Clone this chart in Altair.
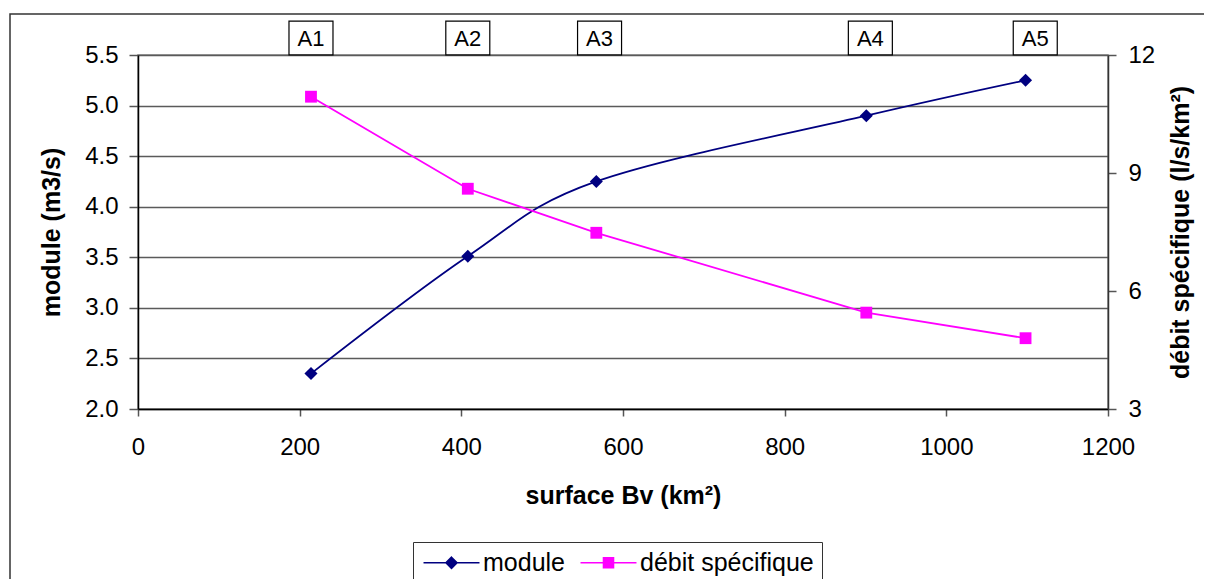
import altair as alt
import pandas as pd

# ---- data ----
surface = [214, 408, 567, 901, 1098]
module = [2.35, 3.51, 4.25, 4.90, 5.25]
debit = [10.94, 8.60, 7.48, 5.45, 4.80]
series_names = ["module", "débit spécifique"]
series_colors = ["#000080", "#FF00FF"]
station_labels = ["A1", "A2", "A3", "A4", "A5"]
station_label_x = [214, 408, 571, 906, 1110]

FONT = "Liberation Sans"

rows = []
for s, m, d in zip(surface, module, debit):
    rows.append({"surface": s, "series": series_names[0], "value": m})
    rows.append({"surface": s, "series": series_names[1], "value": d})
df = pd.DataFrame(rows)
lab_df = pd.DataFrame({"label": station_labels, "x": station_label_x})

xscale = alt.Scale(domain=[0, 1200], nice=False, zero=False)
xaxis = alt.Axis(values=[0, 200, 400, 600, 800, 1000, 1200], format="d",
                 title="surface Bv (km²)", grid=False, tickSize=7,
                 labelPadding=19, titlePadding=24,
                 domainColor="#000000", tickColor="#555555")

base = alt.Chart(df)

# left axis (module)
yl_scale = alt.Scale(domain=[2.0, 5.5], nice=False, zero=False)
yl_axis = alt.Axis(values=[2.0, 2.5, 3.0, 3.5, 4.0, 4.5, 5.0, 5.5], format=".1f",
                   title="module (m3/s)", grid=True, tickSize=9, labelPadding=11,
                   titlePadding=20, domainColor="#000000", tickColor="#555555")
mod_line = base.transform_filter(alt.datum.series == "module").mark_line(
    strokeWidth=1.8, interpolate="cardinal", color=series_colors[0]).encode(
    x=alt.X("surface:Q", scale=xscale, axis=xaxis),
    y=alt.Y("value:Q", scale=yl_scale, axis=yl_axis),
)
mod_pts = base.transform_filter(alt.datum.series == "module").mark_point(
    filled=True, shape="diamond", size=170, opacity=1, color=series_colors[0]).encode(
    x=alt.X("surface:Q", scale=xscale, axis=xaxis),
    y=alt.Y("value:Q", scale=yl_scale, axis=yl_axis),
)
left = alt.layer(mod_line, mod_pts)

# right axis (débit spécifique)
yr_scale = alt.Scale(domain=[3, 12], nice=False, zero=False)
yr_axis = alt.Axis(values=[3, 6, 9, 12], orient="right", title="débit spécifique (l/s/km²)",
                   grid=False, tickSize=8, labelPadding=12, titlePadding=39,
                   titleAngle=270, domainColor="#333333", tickColor="#555555")
deb_line = base.transform_filter(alt.datum.series == "débit spécifique").mark_line(
    strokeWidth=1.8, color=series_colors[1]).encode(
    x=alt.X("surface:Q", scale=xscale, axis=xaxis),
    y=alt.Y("value:Q", scale=yr_scale, axis=yr_axis),
)
deb_pts = base.transform_filter(alt.datum.series == "débit spécifique").mark_point(
    filled=True, shape="square", size=140, opacity=1, color=series_colors[1]).encode(
    x=alt.X("surface:Q", scale=xscale, axis=xaxis),
    y=alt.Y("value:Q", scale=yr_scale, axis=yr_axis),
)
right = alt.layer(deb_line, deb_pts)

# legend-only layer (no rows drawn; legend built from the explicit scale domains)
legend = alt.Legend(
    title=None, orient="none", legendX=275, legendY=487, direction="horizontal",
    labelFont=FONT, labelFontSize=25, labelColor="black", labelLimit=400,
    strokeColor="#333333", fillColor="white", padding=8,
    symbolSize=324, symbolStrokeWidth=1.5, symbolOffset=18, labelOffset=19,
    columnPadding=12, symbolOpacity=1,
)
legend_shapes = ["M-3.11,0H3.11M0,-0.62L0.62,0L0,0.62L-0.62,0Z",
                 "M-3.11,0H3.11M-0.56,-0.56H0.56V0.56H-0.56Z"]
leg_layer = base.transform_filter("false").mark_point(
    filled=True, strokeWidth=1.5, opacity=1).encode(
    shape=alt.Shape("series:N", scale=alt.Scale(domain=series_names, range=legend_shapes), legend=legend),
    fill=alt.Fill("series:N", scale=alt.Scale(domain=series_names, range=series_colors), legend=legend),
    stroke=alt.Stroke("series:N", scale=alt.Scale(domain=series_names, range=series_colors), legend=legend),
)

# station label boxes above the plot
boxes = alt.Chart(lab_df).mark_point(
    shape="M-1,-0.77H1V0.77H-1Z", size=1936, filled=True, fill="white",
    stroke="black", strokeWidth=1.2, opacity=1).encode(
    x=alt.X("x:Q", scale=xscale),
    y=alt.value(-17),
)
texts = alt.Chart(lab_df).mark_text(font=FONT, fontSize=22, color="black",
                                     baseline="middle", align="center").encode(
    x=alt.X("x:Q", scale=xscale),
    y=alt.value(-16),
    text="label:N",
)

# outer chart frame
frame = alt.Chart(alt.Data(values=[{"f": 1}])).mark_rect(
    filled=False, stroke="#333333", strokeWidth=1.5).encode(
    x=alt.value(-128), x2=alt.value(1400), y=alt.value(-41), y2=alt.value(700))

chart = alt.layer(frame, left, right, leg_layer, boxes, texts).resolve_scale(
    y="independent").properties(
    width=970, height=354,
    autosize=alt.AutoSizeParams(type="none"),
    padding={"left": 130, "top": 47, "right": 96, "bottom": 170},
).configure_view(
    fill="#C0C0C0", stroke="#808080", strokeWidth=1.5
).configure_axis(
    labelFont=FONT, labelFontSize=24, labelColor="black",
    titleFont=FONT, titleFontSize=25, titleFontWeight="bold", titleColor="black",
    gridColor="#5a5a5a", gridWidth=1.5, domainWidth=1.5, tickWidth=1.5,
    labelFlush=False,
)

chart.save("out.html", embed_options={"renderer": "svg", "actions": False})
